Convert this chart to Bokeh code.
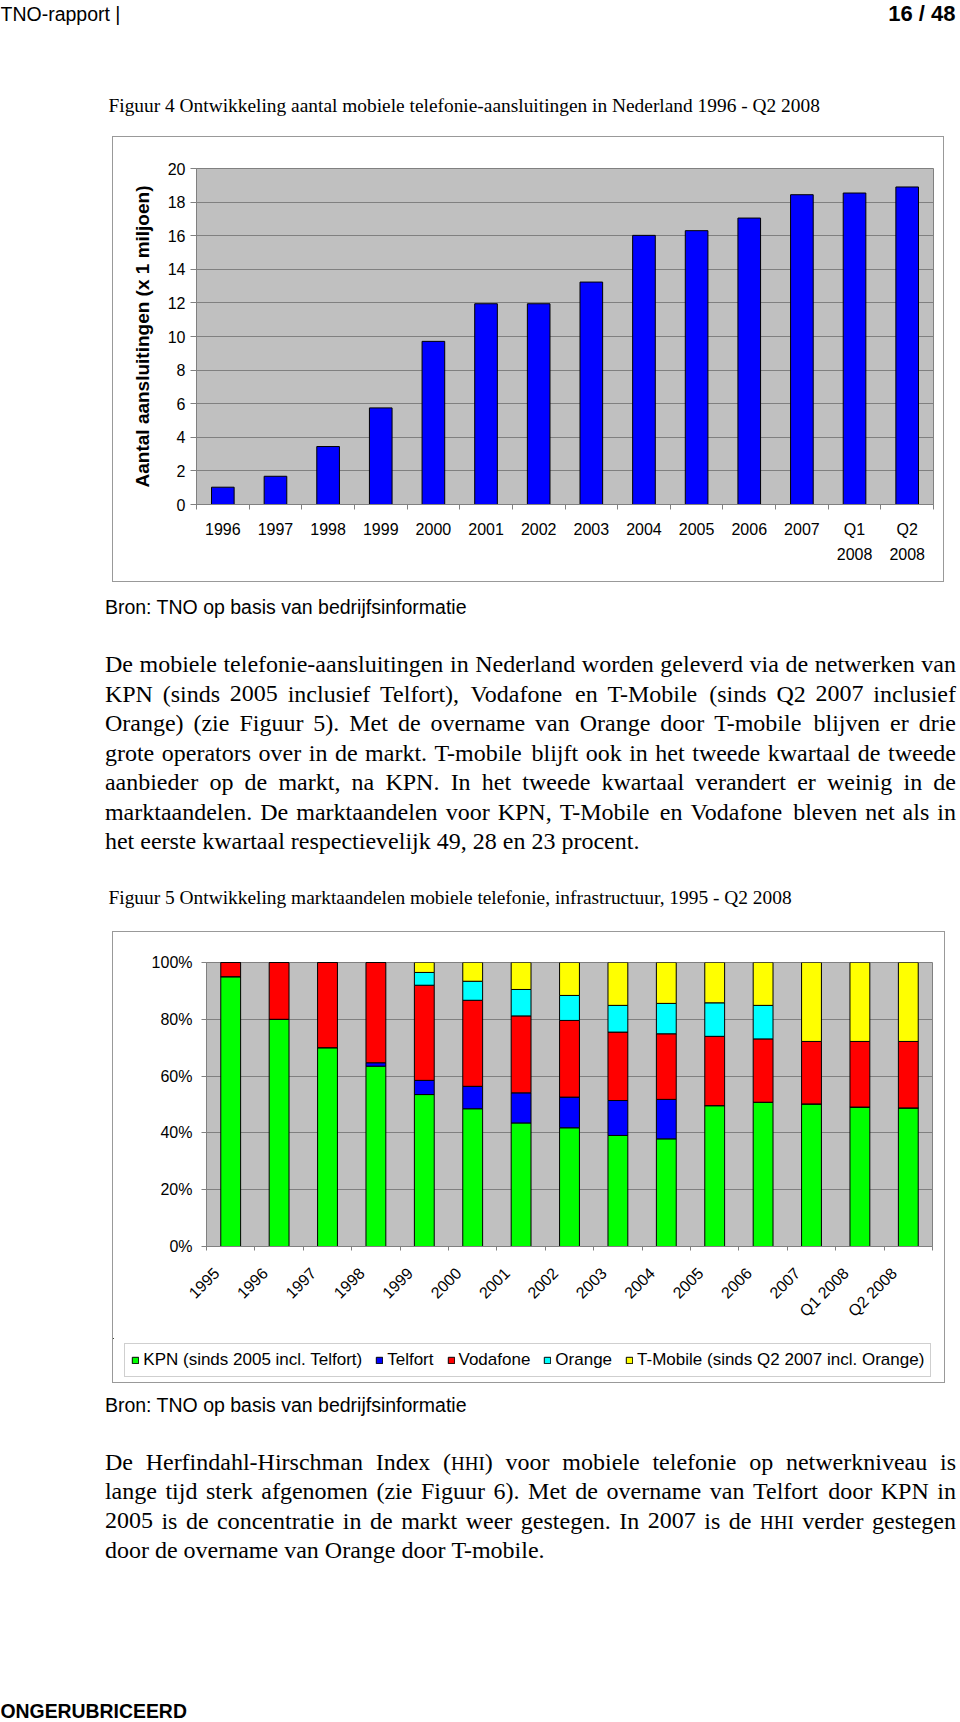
import math
import re
from bokeh.plotting import figure
from bokeh.models import (Range1d, FixedTicker, Label, ColumnDataSource,
                          PrintfTickFormatter, Legend, LegendItem, Spacer)
from bokeh.layouts import column, row
from bokeh.embed import file_html
from bokeh.resources import INLINE
from bokeh.core.properties import value

# ---------------- data ----------------
fig4_categories = ["1996", "1997", "1998", "1999", "2000", "2001", "2002",
                   "2003", "2004", "2005", "2006", "2007", "Q1\n2008", "Q2\n2008"]
fig4_values = [1.03, 1.68, 3.45, 5.75, 9.71, 11.95, 11.95,
               13.24, 16.02, 16.3, 17.05, 18.44, 18.54, 18.9]
fig4_yticks = [0, 2, 4, 6, 8, 10, 12, 14, 16, 18, 20]

fig5_categories = ["1995", "1996", "1997", "1998", "1999", "2000", "2001", "2002",
                   "2003", "2004", "2005", "2006", "2007", "Q1 2008", "Q2 2008"]
kpn      = [95.0, 80.0, 70.0, 63.5, 53.5, 48.5, 43.5, 41.8, 39.1, 37.9, 49.6, 50.8, 50.2, 49.1, 48.8]
telfort  = [0.0, 0.0, 0.0, 1.2, 5.0, 7.9, 10.6, 10.8, 12.3, 13.9, 0.0, 0.0, 0.0, 0.0, 0.0]
vodafone = [5.0, 20.0, 30.0, 35.3, 33.5, 30.3, 27.1, 27.0, 24.1, 23.1, 24.4, 22.3, 22.0, 23.1, 23.4]
orange   = [0.0, 0.0, 0.0, 0.0, 4.5, 6.7, 9.3, 8.8, 9.4, 10.7, 11.8, 11.8, 0.0, 0.0, 0.0]
tmobile  = [0.0, 0.0, 0.0, 0.0, 3.5, 6.6, 9.5, 11.6, 15.1, 14.4, 14.2, 15.1, 27.8, 27.8, 27.8]
fig5_series = ["KPN (sinds 2005 incl. Telfort)", "Telfort", "Vodafone", "Orange",
               "T-Mobile (sinds Q2 2007 incl. Orange)"]
fig5_colors = ["#00FF00", "#0000FF", "#FF0000", "#00FFFF", "#FFFF00"]
fig5_yticks = [0, 20, 40, 60, 80, 100]

header_left = "TNO-rapport |"
header_right = "16 / 48"
caption4 = "Figuur 4 Ontwikkeling aantal mobiele telefonie-aansluitingen in Nederland 1996 - Q2 2008"
caption5 = "Figuur 5 Ontwikkeling marktaandelen mobiele telefonie, infrastructuur, 1995 - Q2 2008"
source_note = "Bron: TNO op basis van bedrijfsinformatie"
para1 = [
    "De mobiele telefonie-aansluitingen in Nederland worden geleverd via de netwerken van",
    "KPN (sinds 2005 inclusief Telfort), Vodafone en T-Mobile (sinds Q2 2007 inclusief",
    "Orange) (zie Figuur 5). Met de overname van Orange door T-mobile blijven er drie",
    "grote operators over in de markt. T-mobile blijft ook in het tweede kwartaal de tweede",
    "aanbieder op de markt, na KPN. In het tweede kwartaal verandert er weinig in de",
    "marktaandelen. De marktaandelen voor KPN, T-Mobile en Vodafone bleven net als in",
    "het eerste kwartaal respectievelijk 49, 28 en 23 procent.",
]
para2 = [
    "De Herfindahl-Hirschman Index (HHI) voor mobiele telefonie op netwerkniveau is",
    "lange tijd sterk afgenomen (zie Figuur 6). Met de overname van Telfort door KPN in",
    "2005 is de concentratie in de markt weer gestegen. In 2007 is de HHI verder gestegen",
    "door de overname van Orange door T-mobile.",
]
small_caps_words = ["HHI"]
footer = "ONGERUBRICEERD"

# ---------------- helpers ----------------
W = 960
SANS = "Liberation Sans"
SERIF = "Liberation Serif"

TIMES_W = {' ': 250, '(': 333, ')': 333, ',': 250, '-': 333, '.': 250, ':': 278,
           'A': 722, 'B': 667, 'C': 667, 'D': 722, 'E': 611, 'F': 556, 'G': 722, 'H': 722,
           'I': 333, 'J': 389, 'K': 722, 'L': 611, 'M': 889, 'N': 722, 'O': 722, 'P': 556,
           'Q': 722, 'R': 667, 'S': 556, 'T': 611, 'U': 722, 'V': 722, 'W': 944, 'X': 722,
           'Y': 722, 'Z': 611,
           'a': 444, 'b': 500, 'c': 444, 'd': 500, 'e': 444, 'f': 333, 'g': 500, 'h': 500,
           'i': 278, 'j': 278, 'k': 500, 'l': 278, 'm': 778, 'n': 500, 'o': 500, 'p': 500,
           'q': 500, 'r': 333, 's': 389, 't': 278, 'u': 500, 'v': 500, 'w': 722, 'x': 500,
           'y': 500, 'z': 444}
for d in "0123456789":
    TIMES_W[d] = 500


def tw(s, size):
    return sum(TIMES_W.get(c, 500) for c in s) * size / 1000.0


def blank_fig(w, h):
    p = figure(width=w, height=h, x_range=Range1d(0, w), y_range=Range1d(h, 0),
               toolbar_location=None, output_backend="svg", min_border=0,
               x_axis_location=None, y_axis_location=None, frame_align=False,
               outline_line_color=None, background_fill_color="white",
               border_fill_color="white")
    p.xgrid.visible = False
    p.ygrid.visible = False
    return p


def label(p, x, y, text, font=SANS, size="19.5px", style="normal", align="left"):
    p.add_layout(Label(x=x, y=y, text=text, text_font=font, text_font_size=size,
                       text_font_style=style, text_align=align, text_baseline="middle",
                       text_color="black"))


SC_PATTERN = re.compile("(" + "|".join(small_caps_words) + ")")


def paragraph(p, lines, x0, x1, y0, dy, size):
    small = round(size * 0.8)
    xs, ys, texts, sizes = [], [], [], []
    for i, line in enumerate(lines):
        ws = line.split(" ")
        segs = []
        for w in ws:
            parts = [s for s in SC_PATTERN.split(w) if s]
            segs.append([(s, small if s in small_caps_words else size) for s in parts])
        widths = [sum(tw(s, fs) for s, fs in sg) for sg in segs]
        if i < len(lines) - 1 and len(ws) > 1:
            gap = (x1 - x0 - sum(widths)) / (len(ws) - 1)
        else:
            gap = tw(" ", size)
        x = x0
        yl = y0 + i * dy
        for sg, wd in zip(segs, widths):
            xx = x
            for s, fs in sg:
                xs.append(xx)
                ys.append(yl + 0.3 * (size - fs))
                texts.append(s)
                sizes.append(f"{fs}px")
                xx += tw(s, fs)
            x += wd + gap
    src = ColumnDataSource(dict(x=xs, y=ys, text=texts, fs=sizes))
    p.text(x="x", y="y", text="text", source=src, text_font=value(SERIF),
           text_font_size="fs", text_baseline="middle", text_align="left",
           text_color="black")


BOX_STYLE = {"border": "1px solid #999999"}

# ---------------- section A: header + caption 4 (page y 0..136) ----------------
pa = blank_fig(W, 136)
label(pa, 0, 13, header_left, size="19.5px")
label(pa, 955, 13, header_right, size="22px", style="bold", align="right")
label(pa, 108, 105, caption4, font=SERIF, size="19.4px")

# ---------------- section B: figure 4 (box page x 112..946, y 136..584) ----------------
n1 = len(fig4_categories)
x1 = list(range(1, n1 + 1))
p1 = figure(width=832, height=446, x_range=Range1d(0.5, n1 + 0.5), y_range=Range1d(0, 20),
            toolbar_location=None, output_backend="svg", frame_align=False,
            min_border_left=83, min_border_right=12, min_border_top=31, min_border_bottom=79,
            background_fill_color="#C0C0C0", border_fill_color="white",
            outline_line_color="#808080", styles=BOX_STYLE)
p1.vbar(x=x1, top=fig4_values, width=0.43, fill_color="#0000FF",
        line_color="black", line_width=1)
xa = p1.xaxis[0]
xa.ticker = FixedTicker(ticks=x1, minor_ticks=[i + 0.5 for i in range(0, n1 + 1)])
xa.major_label_overrides = {i + 1: lab for i, lab in enumerate(fig4_categories)}
xa.major_tick_line_color = None
xa.major_tick_out = 0
xa.major_tick_in = 0
xa.minor_tick_line_color = "#808080"
xa.minor_tick_out = 5
xa.minor_tick_in = 0
xa.axis_line_color = "#808080"
xa.major_label_text_font = SANS
xa.major_label_text_font_size = "16px"
xa.major_label_text_line_height = 1.5
xa.major_label_text_color = "black"
xa.major_label_standoff = 11
ya = p1.yaxis[0]
ya.ticker = FixedTicker(ticks=fig4_yticks)
ya.minor_tick_line_color = None
ya.major_tick_out = 6
ya.major_tick_in = 0
ya.major_tick_line_color = "#808080"
ya.axis_line_color = "#808080"
ya.major_label_standoff = 5
ya.major_label_text_font = SANS
ya.major_label_text_font_size = "16px"
ya.major_label_text_color = "black"
ya.axis_label = "Aantal aansluitingen (x 1 miljoen)"
ya.axis_label_text_font = SANS
ya.axis_label_text_font_size = "19px"
ya.axis_label_text_font_style = "bold"
ya.axis_label_text_color = "black"
ya.axis_label_standoff = 12
p1.xgrid.visible = False
p1.ygrid.ticker = FixedTicker(ticks=fig4_yticks)
p1.ygrid.grid_line_color = "#808080"

# ---------------- section C: source, paragraph 1, caption 5 (page y 584..931) ----------------
pc = blank_fig(W, 347)
label(pc, 104.4, 22, source_note)
paragraph(pc, para1, 104.4, 955.5, 79.5, 29.55, 24)
label(pc, 108, 313, caption5, font=SERIF, size="19.4px")

# ---------------- section D: figure 5 (box page x 112..945, y 931..1383) ----------------
n2 = len(fig5_categories)
x2 = list(range(1, n2 + 1))
LABEL_SHIFT = 0.29  # Excel-style anchoring of the rotated category labels
p2 = figure(width=831, height=406, x_range=Range1d(0.5, n2 + 0.5), y_range=Range1d(0, 100),
            toolbar_location=None, output_backend="svg", frame_align=False,
            min_border_left=93, min_border_right=12, min_border_top=30, min_border_bottom=92,
            background_fill_color="#C0C0C0", border_fill_color="white",
            outline_line_color="#808080")
p2.extra_x_ranges = {"labels": Range1d(0.5 + LABEL_SHIFT, n2 + 0.5 + LABEL_SHIFT)}
src2 = ColumnDataSource(dict(x=x2, kpn=kpn, telfort=telfort, vodafone=vodafone,
                             orange=orange, tmobile=tmobile))
p2.vbar_stack(["kpn", "telfort", "vodafone", "orange", "tmobile"], x="x", width=0.41,
              source=src2, fill_color=fig5_colors, line_color="black", line_width=1)
xb = p2.xaxis[0]
xb.x_range_name = "labels"
xb.ticker = FixedTicker(ticks=x2,
                        minor_ticks=[i + 0.5 + LABEL_SHIFT for i in range(0, n2 + 1)])
xb.major_label_overrides = {i + 1: lab for i, lab in enumerate(fig5_categories)}
xb.major_label_orientation = math.pi / 4
xb.major_tick_line_color = None
xb.major_tick_out = 0
xb.major_tick_in = 0
xb.minor_tick_line_color = "#808080"
xb.minor_tick_out = 4
xb.minor_tick_in = 0
xb.axis_line_color = "#808080"
xb.major_label_text_font = SANS
xb.major_label_text_font_size = "16px"
xb.major_label_text_color = "black"
xb.major_label_standoff = 20
yb = p2.yaxis[0]
yb.ticker = FixedTicker(ticks=fig5_yticks)
yb.formatter = PrintfTickFormatter(format="%d%%")
yb.minor_tick_line_color = None
yb.major_tick_out = 5
yb.major_tick_in = 0
yb.major_tick_line_color = "#808080"
yb.axis_line_color = "#808080"
yb.major_label_standoff = 9
yb.major_label_text_font = SANS
yb.major_label_text_font_size = "16px"
yb.major_label_text_color = "black"
p2.xgrid.visible = False
p2.ygrid.ticker = FixedTicker(ticks=fig5_yticks)
p2.ygrid.grid_line_color = "#808080"

# legend strip of figure 5 (inside the same chart box); the legend keys are
# proxy bars placed outside the visible range of this strip
pl = blank_fig(831, 44)
leg_src = ColumnDataSource(dict(x=[-50.0], top=[-2.0], bottom=[-3.0]))
leg_renderers = [pl.vbar(x="x", top="top", bottom="bottom", width=1, source=leg_src,
                         fill_color=c, line_color="black", line_width=1)
                 for c in fig5_colors]
leg = Legend(items=[LegendItem(label=name, renderers=[r])
                    for name, r in zip(fig5_series, leg_renderers)],
             location=(11.3, 5.3), orientation="horizontal",
             glyph_width=8, glyph_height=8, label_standoff=4, spacing=13,
             padding=6, margin=0, border_line_color="#a0a0a0", border_line_width=1,
             background_fill_color="white", background_fill_alpha=1.0,
             label_text_font=SANS, label_text_font_size="17px", label_text_color="black")
pl.add_layout(leg, "center")

# ---------------- section E: source, paragraph 2, footer (page y 1383..1722) ----------------
pe = blank_fig(W, 339)
label(pe, 104.4, 21.3, source_note)
paragraph(pe, para2, 104.4, 955.5, 78.3, 29.5, 24)
label(pe, 0, 327, footer, size="19.4px", style="bold")

layout = column(pa,
                row(Spacer(width=112, height=448), p1),
                pc,
                row(Spacer(width=112, height=452), column(p2, pl, styles=BOX_STYLE)),
                pe)
open("out.html", "w").write(file_html(layout, INLINE))
